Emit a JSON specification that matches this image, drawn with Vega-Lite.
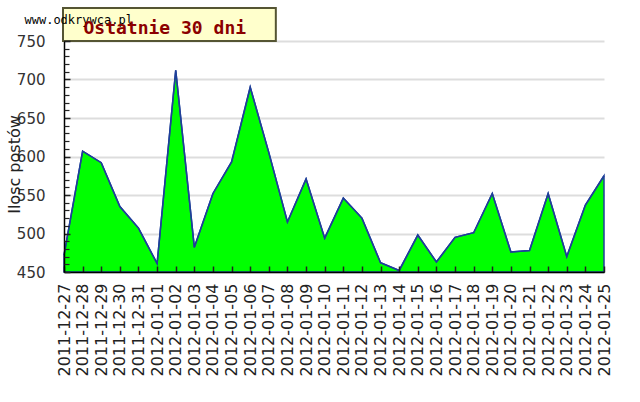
{
  "$schema": "https://vega.github.io/schema/vega-lite/v6.json",
  "width": 540,
  "height": 231,
  "autosize": {"type": "none"},
  "padding": {"left": 64, "top": 41, "right": 36, "bottom": 130},
  "background": "white",
  "config": {
    "view": {"stroke": null},
    "font": "DejaVu Sans",
    "axisX": {
      "labelAngle": -90, "labelFont": "DejaVu Sans", "labelFontSize": 16, "labelColor": "#222222",
      "labelPadding": 17, "labelOverlap": false, "labelFlush": false,
      "tickSize": -6, "tickColor": "#222222", "tickWidth": 1.5,
      "domainColor": "#000000", "domainWidth": 1.5, "grid": false,
      "titleFont": "DejaVu Sans Mono", "titleFontSize": 12,
      "titleFontWeight": "normal", "titleColor": "#000000", "titleAngle": 0,
      "titleAlign": "left", "titleBaseline": "alphabetic", "titleX": -40, "titleY": -249
    }
  },
  "data": {
    "values": [
      {"date": "2011-12-27", "posts": 472},
      {"date": "2011-12-28", "posts": 607},
      {"date": "2011-12-29", "posts": 592},
      {"date": "2011-12-30", "posts": 535},
      {"date": "2011-12-31", "posts": 507},
      {"date": "2012-01-01", "posts": 461},
      {"date": "2012-01-02", "posts": 712},
      {"date": "2012-01-03", "posts": 482},
      {"date": "2012-01-04", "posts": 552},
      {"date": "2012-01-05", "posts": 593},
      {"date": "2012-01-06", "posts": 690},
      {"date": "2012-01-07", "posts": 605},
      {"date": "2012-01-08", "posts": 515},
      {"date": "2012-01-09", "posts": 571},
      {"date": "2012-01-10", "posts": 494},
      {"date": "2012-01-11", "posts": 546},
      {"date": "2012-01-12", "posts": 520},
      {"date": "2012-01-13", "posts": 462},
      {"date": "2012-01-14", "posts": 452},
      {"date": "2012-01-15", "posts": 498},
      {"date": "2012-01-16", "posts": 463},
      {"date": "2012-01-17", "posts": 495},
      {"date": "2012-01-18", "posts": 501},
      {"date": "2012-01-19", "posts": 552},
      {"date": "2012-01-20", "posts": 476},
      {"date": "2012-01-21", "posts": 478},
      {"date": "2012-01-22", "posts": 552},
      {"date": "2012-01-23", "posts": 470},
      {"date": "2012-01-24", "posts": 537},
      {"date": "2012-01-25", "posts": 575}
    ]
  },
  "resolve": {"axis": {"y": "independent"}},
  "layer": [
    {
      "data": {"values": [{}]},
      "mark": {"type": "rect", "fill": "#ffffcc", "stroke": "#555533", "strokeWidth": 2, "xOffset": -1, "x2Offset": 7},
      "encoding": {
        "x": {"datum": "2011-12-27", "type": "ordinal", "scale": {"type": "point", "padding": 0}, "axis": {"title": "www.odkrywca.pl", "zindex": 1}},
        "x2": {"datum": "2012-01-07"},
        "y": {
          "datum": 750, "type": "quantitative",
          "scale": {"domain": [450, 750], "zero": false, "nice": false},
          "axis": {
            "orient": "left", "values": [450, 500, 550, 600, 650, 700, 750],
            "grid": true, "gridColor": "#dddddd", "gridWidth": 2,
            "labels": false, "ticks": false, "domain": false, "title": null, "zindex": 0
          }
        },
        "y2": {"datum": 793}
      }
    },
    {
      "mark": {"type": "area", "color": "#00ff00", "stroke": "#1f3f99", "strokeWidth": 1.5},
      "encoding": {
        "x": {"field": "date", "type": "ordinal", "scale": {"type": "point", "padding": 0}, "axis": {"title": "www.odkrywca.pl", "zindex": 1}},
        "y": {
          "field": "posts", "type": "quantitative", "stack": null,
          "scale": {"domain": [450, 750], "zero": false, "nice": false},
          "axis": {
            "orient": "left", "values": [450, 500, 550, 600, 650, 700, 750], "grid": false,
            "labelFont": "DejaVu Sans", "labelFontSize": 15, "labelColor": "#333333", "labelPadding": 25,
            "tickSize": -6, "tickColor": "#222222", "tickWidth": 1.5,
            "domainColor": "#000000", "domainWidth": 1.5, "zindex": 1,
            "title": "Ilosc postów", "titleFont": "DejaVu Sans", "titleFontSize": 16,
            "titleFontWeight": "normal", "titleColor": "#222222", "titleAngle": -90,
            "titleAlign": "center", "titleBaseline": "alphabetic", "titleX": -45, "titleY": 123
          }
        },
        "y2": {"datum": 450}
      }
    },
    {
      "mark": {"type": "line", "color": "#1f3f99", "strokeWidth": 1.5},
      "encoding": {
        "x": {"field": "date", "type": "ordinal", "scale": {"type": "point", "padding": 0}, "axis": {"title": "www.odkrywca.pl", "zindex": 1}},
        "y": {
          "field": "posts", "type": "quantitative",
          "scale": {"domain": [450, 750], "zero": false, "nice": false},
          "axis": {
            "orient": "left",
            "values": [460, 470, 480, 490, 510, 520, 530, 540, 560, 570, 580, 590, 610, 620, 630, 640, 660, 670, 680, 690, 710, 720, 730, 740],
            "labels": false, "grid": false, "domain": false,
            "tickSize": -5, "tickColor": "#222222", "tickWidth": 1.2, "zindex": 1,
            "title": "Ostatnie 30 dni", "titleFont": "DejaVu Sans Mono", "titleFontSize": 18,
            "titleFontWeight": "bold", "titleColor": "#8b0000", "titleAngle": 0,
            "titleAlign": "left", "titleBaseline": "alphabetic", "titleX": 19, "titleY": -8
          }
        }
      }
    }
  ]
}
